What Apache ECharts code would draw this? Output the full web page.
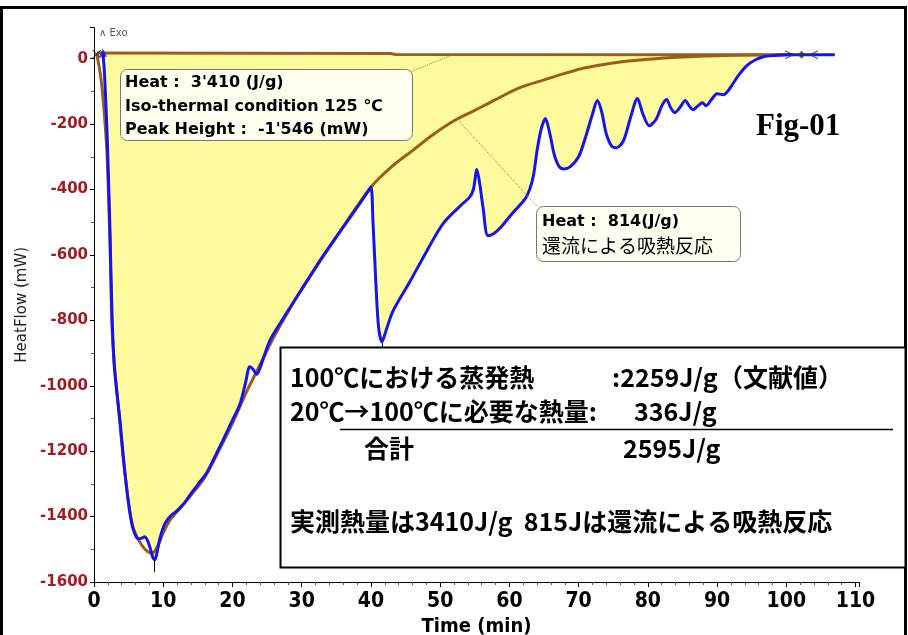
<!DOCTYPE html>
<html>
<head>
<meta charset="utf-8">
<script src="https://cdn.jsdelivr.net/npm/echarts@6/dist/echarts.min.js"></script>
<style>
  html, body { margin:0; padding:0; background:#fff; }
  #chart { width:908px; height:635px; }
</style>
</head>
<body>
<div id="chart"></div>
<script>
// 測定曲線 (青)
const blueTime = [1.3,1.5,1.8,2.0,2.3,2.6,2.9,3.3,3.8,4.2,4.7,5.2,5.6,6.0,6.4,6.9,7.3,7.7,8.1,8.5,8.8,9.1,9.5,10.1,10.7,11.4,12.0,13.0,14.0,15.0,16.3,17.5,18.6,20.0,21.1,21.9,22.5,23.0,23.5,24.0,24.4,25.4,27.0,30.0,32.5,35.0,37.5,39.5,40.0,40.3,40.7,41.1,41.6,42.2,43.2,45.7,48.1,50.4,52.9,54.2,54.8,55.3,55.7,56.2,56.9,57.7,58.7,60.5,62.3,63.0,63.5,64.0,64.6,65.2,65.8,66.5,67.2,67.9,68.8,70.0,71.0,72.0,72.7,73.3,74.0,74.8,75.5,76.5,77.5,78.5,79.3,80.2,81.2,82.0,82.7,83.3,83.9,84.6,85.4,86.0,86.5,87.2,87.9,88.4,89.2,90.0,90.9,91.6,92.3,93.2,94.3,95.5,96.7,98.5,100.0,103.0,107.0];
const blueHeat = [16,-40,-180,-300,-520,-780,-930,-1020,-1116,-1210,-1310,-1390,-1434,-1458,-1468,-1466,-1462,-1472,-1495,-1525,-1532,-1510,-1468,-1428,-1407,-1392,-1382,-1360,-1330,-1302,-1265,-1215,-1168,-1105,-1055,-990,-942,-950,-965,-945,-920,-862,-805,-705,-622,-545,-470,-408,-392,-500,-680,-820,-866,-830,-771,-679,-587,-505,-450,-425,-400,-339,-380,-456,-541,-535,-517,-471,-428,-395,-355,-281,-215,-183,-225,-295,-330,-337,-330,-300,-240,-170,-128,-160,-230,-268,-272,-250,-180,-122,-170,-205,-185,-145,-125,-150,-165,-150,-128,-145,-156,-145,-135,-144,-125,-107,-110,-98,-76,-48,-21,-4,6,10,12,12,12];

// ベースライン曲線 (茶)
const baseTime = [0.4,1.0,1.5,1.9,2.3,2.6,3.0,3.5,4.2,5.0,5.6,6.3,7.0,7.7,8.4,9.2,10.0,11.0,12.4,14.0,16.0,18.0,20.0,22.0,24.0,26.0,28.0,30.0,35.0,40.0,43.0,46.0,49.0,52.0,55.0,58.0,61.6,65.0,68.0,71.0,75.0,80.0,85.0,90.0,95.0,100.0];
const baseHeat = [15,-60,-170,-302,-560,-820,-950,-1060,-1215,-1360,-1430,-1466,-1490,-1506,-1512,-1490,-1450,-1410,-1375,-1335,-1280,-1200,-1115,-1020,-935,-850,-775,-705,-545,-393,-330,-281,-232,-190,-158,-125,-88,-65,-45,-28,-13,-2,5,9,11,12];

// 積分の直線ベースライン
const lineTime = [0.4,42.8,43.6,101.0];
const lineHeat = [17,16,13,12];

// 端点マーカー
const markTime = [0.4,1.3,100.4,102.2,104.0];
const markHeat = [14,18,12,12,12];

const xTicks = [0,10,20,30,40,50,60,70,80,90,100,110];
const yTicks = [0,-200,-400,-600,-800,-1000,-1200,-1400,-1600];

const zip = (a, b) => a.map((v, i) => [v, b[i]]);

const markSymbols = [
  'path://M0,0L10,10M10,0L0,10',
  'triangle',
  'path://M0,0L10,5L0,10',
  'diamond',
  'path://M10,0L0,5L10,10'
];
const markColors = ['#222', '#1010ee', '#333', '#333', '#333'];

const chart = echarts.init(document.getElementById('chart'));

const jp = '"Noto Sans CJK JP", sans-serif';
const boxFont = 'bold 16px "DejaVu Sans", "Noto Sans CJK JP", sans-serif';
const bigFont = 'bold 25px "Noto Sans CJK JP", sans-serif';
const narrow = '"Liberation Sans Narrow", "DejaVu Sans Condensed", sans-serif';

chart.setOption({
  animation: false,
  grid: { left: 94, right: 49, top: 27.6, bottom: 53, containLabel: false, outerBoundsMode: 'none' },
  xAxis: {
    type: 'value', min: 0, max: 110.5, interval: 10,
    name: 'Time (min)', nameLocation: 'middle', nameGap: 31,
    nameTextStyle: { fontFamily: narrow, fontWeight: 'bold', fontSize: 20, color: '#000' },
    axisLine: { onZero: false, lineStyle: { color: '#000', width: 1 } },
    axisTick: { length: 5, lineStyle: { color: '#000' } },
    minorTick: { show: true, splitNumber: 5, length: 3, lineStyle: { color: '#555' } },
    axisLabel: {
      margin: 9, color: '#000', fontWeight: 'bold', fontSize: 21, fontFamily: narrow,
      formatter: v => xTicks.includes(v) ? String(v) : ''
    },
    splitLine: { show: false }
  },
  yAxis: {
    type: 'value', min: -1600, max: 95, interval: 200,
    name: 'HeatFlow (mW)', nameLocation: 'middle', nameGap: 61, nameRotate: 90,
    nameTextStyle: { fontFamily: '"DejaVu Sans", sans-serif', fontSize: 15, color: '#222' },
    axisLine: { onZero: false, lineStyle: { color: '#000', width: 1 } },
    axisTick: { length: 4, lineStyle: { color: '#000' } },
    minorTick: { show: true, splitNumber: 2, length: 3, lineStyle: { color: '#555' } },
    axisLabel: {
      margin: 6, color: '#a31b22', fontWeight: 'bold', fontSize: 15,
      fontFamily: '"DejaVu Sans", sans-serif',
      formatter: v => yTicks.includes(v) ? String(v) : ''
    },
    splitLine: { show: false }
  },
  series: [
    {
      name: 'fill', type: 'line', z: 1, symbol: 'none', silent: true,
      data: zip(blueTime, blueHeat),
      lineStyle: { width: 0 },
      areaStyle: { color: '#fdfb9d', opacity: 1, origin: 14 }
    },
    {
      name: 'baseline', type: 'line', z: 3, symbol: 'none',
      data: zip(lineTime, lineHeat),
      lineStyle: { color: '#9a5d1c', width: 3 },
      markLine: {
        silent: true, symbol: 'none', label: { show: false },
        lineStyle: { color: '#b0703a', width: 1, type: 'dotted' },
        data: [
          [{ coord: [45.7, -40] }, { coord: [52.3, 16] }],
          [{ coord: [52.5, -186] }, { coord: [64.0, -452] }]
        ]
      }
    },
    {
      name: 'curve', type: 'line', z: 3, symbol: 'none', smooth: 0.3,
      data: zip(baseTime, baseHeat),
      lineStyle: { color: '#9a5d1c', width: 3 }
    },
    {
      name: 'heatflow', type: 'line', z: 4, symbol: 'none', smooth: 0.3,
      data: zip(blueTime, blueHeat),
      lineStyle: { color: '#1414f0', width: 3 },
      markLine: {
        silent: true, symbol: 'none', label: { show: false },
        lineStyle: { color: '#000', width: 1, type: 'solid' },
        data: [
          [{ coord: [8.7, -1535] }, { coord: [8.7, -1570] }],
          [{ coord: [41.6, -870] }, { coord: [41.6, -890] }]
        ]
      }
    },
    {
      name: 'marks', type: 'scatter', z: 5, symbolSize: 8,
      data: zip(markTime, markHeat).map((p, i) => ({
        value: p, symbol: markSymbols[i],
        itemStyle: i === 1 || i === 3
          ? { color: markColors[i] }
          : { color: 'none', borderColor: markColors[i], borderWidth: 1.2 }
      }))
    }
  ],
  graphic: [
    // 外枠
    { type: 'rect', z: 100, silent: true, shape: { x: 1.5, y: 7.5, width: 904, height: 640 },
      style: { fill: 'none', stroke: '#000', lineWidth: 3 } },
    // Exo
    { type: 'text', z: 100, left: 99, top: 28, style: { text: '∧ Exo', font: '10px "DejaVu Sans", sans-serif', fill: '#555' } },
    // Fig-01
    { type: 'text', z: 100, left: 756, top: 111, style: { text: 'Fig-01', font: 'bold 31px "Liberation Serif", serif', fill: '#000' } },
    // ラベル 1
    { type: 'rect', z: 100, shape: { x: 120.5, y: 69.5, width: 292, height: 71, r: 7 },
      style: { fill: '#fffff0', stroke: '#777', lineWidth: 1 } },
    { type: 'text', z: 101, x: 125, y: 83, style: { text: "Heat :  3'410 (J/g)", font: boxFont, fill: '#000', verticalAlign: 'middle' } },
    { type: 'text', z: 101, x: 125, y: 107, style: { text: 'Iso-thermal condition 125 ℃', font: boxFont, fill: '#000', verticalAlign: 'middle' } },
    { type: 'text', z: 101, x: 125, y: 130, style: { text: "Peak Height :  -1'546 (mW)", font: boxFont, fill: '#000', verticalAlign: 'middle' } },
    // ラベル 2
    { type: 'rect', z: 100, shape: { x: 536.5, y: 206.5, width: 204, height: 55, r: 7 },
      style: { fill: '#fffff0', stroke: '#777', lineWidth: 1 } },
    { type: 'text', z: 101, x: 542, y: 222, style: { text: 'Heat :  814(J/g)', font: boxFont, fill: '#000', verticalAlign: 'middle' } },
    { type: 'text', z: 101, x: 542, y: 246, style: { text: '還流による吸熱反応', font: '19px ' + jp, fill: '#000', verticalAlign: 'middle' } },
    // 説明ボックス
    { type: 'rect', z: 100, shape: { x: 280.5, y: 347.5, width: 625, height: 220 },
      style: { fill: '#fff', stroke: '#000', lineWidth: 2 } },
    { type: 'text', z: 101, x: 290, y: 377, style: { text: '100℃における蒸発熱', font: bigFont, fill: '#000', verticalAlign: 'middle' } },
    { type: 'text', z: 101, x: 612, y: 377, style: { text: ':2259J/g', font: bigFont, fill: '#000', verticalAlign: 'middle' } },
    { type: 'text', z: 101, x: 718, y: 377, style: { text: '（文献値）', font: bigFont, fill: '#000', verticalAlign: 'middle' } },
    { type: 'text', z: 101, x: 290, y: 411, style: { text: '20℃→100℃に必要な熱量:', font: bigFont, fill: '#000', verticalAlign: 'middle' } },
    { type: 'text', z: 101, x: 634, y: 411, style: { text: '336J/g', font: bigFont, fill: '#000', verticalAlign: 'middle' } },
    { type: 'line', z: 101, shape: { x1: 340, y1: 429.5, x2: 893, y2: 429.5 }, style: { stroke: '#000', lineWidth: 1.5 } },
    { type: 'text', z: 101, x: 364, y: 448, style: { text: '合計', font: bigFont, fill: '#000', verticalAlign: 'middle' } },
    { type: 'text', z: 101, x: 623, y: 448, style: { text: '2595J/g', font: bigFont, fill: '#000', verticalAlign: 'middle' } },
    { type: 'text', z: 101, x: 290, y: 521, style: { text: '実測熱量は3410J/g  815Jは還流による吸熱反応', font: bigFont, fill: '#000', verticalAlign: 'middle' } }
  ]
});
</script>
</body>
</html>
